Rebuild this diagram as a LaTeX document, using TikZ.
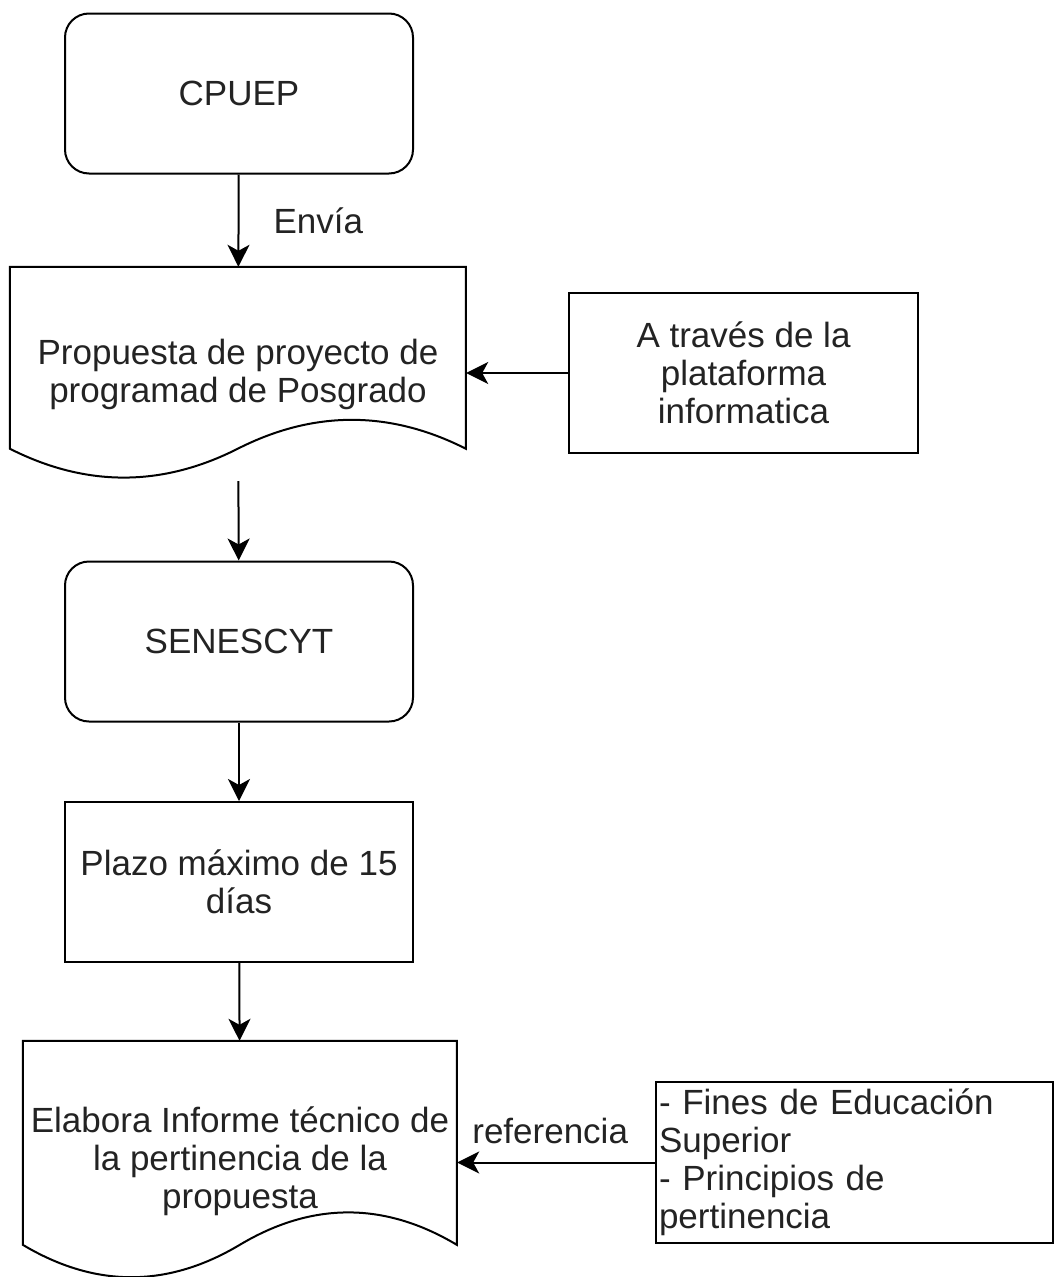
\documentclass[tikz,border=0pt]{standalone}
\usepackage{fontspec}
\setmainfont{Liberation Sans}
\usetikzlibrary{arrows.meta,positioning}
\definecolor{inkgray}{RGB}{35,35,35}
\tikzset{
  box/.style={draw=black, line width=2pt, minimum width=348pt, minimum height=160pt,
    align=center, text=inkgray, font=\fontsize{35}{38}\selectfont},
  rounded box/.style={box, rounded corners=24pt},
  doc box/.style={align=center, text=inkgray, font=\fontsize{35}{38}\selectfont},
  link/.style={line width=2pt, -{Stealth[length=22pt,width=22pt,inset=6pt]}},
  link label/.style={text=inkgray, inner sep=4pt, font=\fontsize{35}{38}\selectfont}
}
\begin{document}
\begin{tikzpicture}[x=1pt,y=-1pt]
            \useasboundingbox (0,0) rectangle (1055,1277);

            % the boxes of the main column
            \node[rounded box] (cpuep) at (239,93.5) {CPUEP};
            \node[doc box, minimum width=456pt, minimum height=214pt] (propuesta) at (238,374)
                {Propuesta de proyecto de\\programad de Posgrado};
            \node[rounded box] (senescyt) at (239,641.5) {SENESCYT};
            \node[box] (plazo) at (239,882) {Plazo m\'aximo de 15\\d\'ias};
            \node[doc box, minimum width=434pt, minimum height=240pt] (informe) at (240,1161)
                {Elabora Informe t\'ecnico de\\la pertinencia de la\\propuesta};

            % the boxes on the right
            \node[box, minimum width=349pt] (plataforma) at (743.5,373)
                {A trav\'es de la\\plataforma\\informatica};
            \node[box, minimum height=161pt, text width=391pt, inner xsep=3pt, align=left] (fines) at (854.5,1162.5)
                {- Fines de Educaci\'on\\Superior\\- Principios de\\pertinencia};

            % document outlines
            \begin{scope}[shift={(propuesta.north west)}]
                \draw[line width=2pt] (0,0) -- (456,0) -- (456,181.9)
                    .. controls (380,143.4) and (304,143.4) .. (228,181.9)
                    .. controls (152,220.4) and (76,220.4) .. (0,181.9) -- cycle;
            \end{scope}
            \begin{scope}[shift={(informe.north west)}]
                \draw[line width=2pt] (0,0) -- (434,0) -- (434,204)
                    .. controls (361.7,160.8) and (289.3,160.8) .. (217,204)
                    .. controls (144.7,247.2) and (72.3,247.2) .. (0,204) -- cycle;
            \end{scope}

            % arrows
            \draw[link] (cpuep) -- node[link label, right=30pt] {Env\'ia} (propuesta);
            \draw[link] (plataforma.west) -- (plataforma.west -| propuesta.east);
            \draw[link] (propuesta) -- (senescyt);
            \draw[link] (senescyt) -- (plazo);
            \draw[link] (plazo) -- (informe);
            \draw[link] (fines.west) -- node[link label, above=14pt, pos=0.53] {referencia} (fines.west -| informe.east);
        \end{tikzpicture}
\end{document}
